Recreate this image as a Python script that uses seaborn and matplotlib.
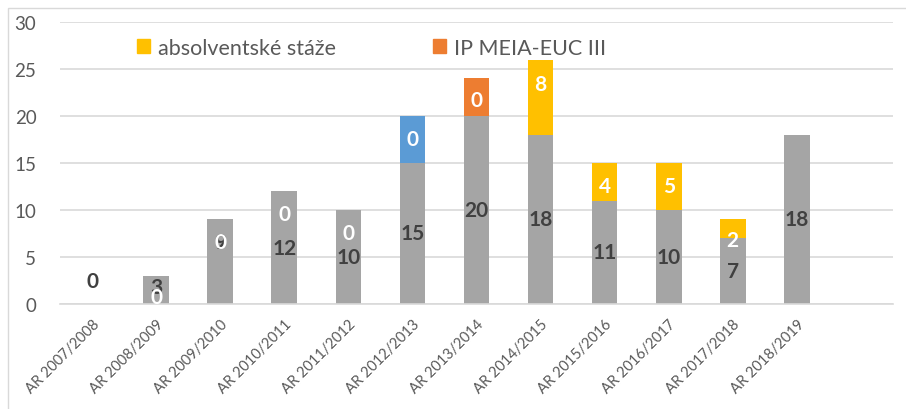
import numpy as np
import pandas as pd
import matplotlib
matplotlib.use('Agg')
import matplotlib.pyplot as plt
import seaborn as sns
from matplotlib.patches import Patch, Rectangle

sns.set_theme(style='white')
plt.rcParams['font.family'] = ['Lato', 'DejaVu Sans']

## 1. Data
roky = ['AR 2007/2008', 'AR 2008/2009', 'AR 2009/2010', 'AR 2010/2011',
        'AR 2011/2012', 'AR 2012/2013', 'AR 2013/2014', 'AR 2014/2015',
        'AR 2015/2016', 'AR 2016/2017', 'AR 2017/2018', 'AR 2018/2019']
zaklad = [0, 3, 9, 12, 10, 15, 20, 18, 11, 10, 7, 18]
modra = [0, 0, 0, 0, 0, 5, 0, 0, 0, 0, 0, 0]
ip_meia = [0, 0, 0, 0, 0, 0, 4, 0, 0, 0, 0, 0]
staze = [0, 0, 0, 0, 0, 0, 0, 8, 4, 5, 2, 0]

# labels as they are printed in the original chart
popisky_modra = {'AR 2012/2013': 0}
popisky_ip = {'AR 2013/2014': 0}
popisky_nuly = ['AR 2008/2009', 'AR 2009/2010', 'AR 2010/2011', 'AR 2011/2012']

# colours
SEDA = '#A5A5A5'
MODRA = '#5B9BD5'
ORANZOVA = '#ED7D31'
ZLUTA = '#FFC000'
TEXT = '#595959'

df = pd.DataFrame({'rok': roky, 'zaklad': zaklad, 'modra': modra,
                   'ip': ip_meia, 'staze': staze})
df['v_modra'] = df['zaklad'] + df['modra']
df['v_ip'] = df['v_modra'] + df['ip']
df['v_staze'] = df['v_ip'] + df['staze']

poradi = roky + ['']   # one empty slot on the right, like in excel

## 2. Plot
fig = plt.figure(figsize=(9.06, 4.10), dpi=100)
ax = fig.add_axes([60 / 906, 1 - 305 / 410, 833 / 906, 282 / 410])

for sloupec, barva in [('v_staze', ZLUTA), ('v_ip', ORANZOVA),
                       ('v_modra', MODRA), ('zaklad', SEDA)]:
    sns.barplot(data=df, x='rok', y=sloupec, order=poradi, color=barva,
                saturation=1, width=0.4, linewidth=0, ax=ax, zorder=2)

ax.set_ylim(0, 30)
ax.set_yticks(range(0, 31, 5))
ax.set_xlim(-0.5, len(poradi) - 0.5)
ax.set_xlabel('')
ax.set_ylabel('')
ax.yaxis.grid(True, color='#D9D9D9', lw=1.2, zorder=0)
ax.set_axisbelow(True)
for s in ['top', 'right', 'left']:
    ax.spines[s].set_visible(False)
ax.spines['bottom'].set_color('#D9D9D9')
ax.spines['bottom'].set_linewidth(1.2)

ax.tick_params(axis='y', length=0, pad=17, labelsize=13.5, labelcolor=TEXT)
ax.tick_params(axis='x', length=0, pad=9, labelsize=10.5, labelcolor=TEXT)
ax.set_xticks(range(len(poradi)))
ax.set_xticklabels(poradi, rotation=45, ha='right', rotation_mode='anchor')

## 3. Data labels
FS = 15
poz = {r: i for i, r in enumerate(roky)}
tmava_y = {'AR 2007/2008': 2.4, 'AR 2008/2009': 1.8, 'AR 2009/2010': 6.6}
for r, v in zip(roky, zaklad):
    y = tmava_y.get(r, v / 2)
    ax.text(poz[r], y, str(v), ha='center', va='center', fontsize=FS,
            fontweight='bold', color='#404040', zorder=4)

nuly_y = [0.7, 6.6, 9.6, 7.6]
for r, y in zip(popisky_nuly, nuly_y):
    ax.text(poz[r], y, '0', ha='center', va='center', fontsize=FS,
            fontweight='bold', color='white', zorder=5)

for r, v in popisky_modra.items():
    i = poz[r]
    ax.text(i, zaklad[i] + modra[i] / 2, str(v), ha='center', va='center',
            fontsize=FS, fontweight='bold', color='white', zorder=5)
for r, v in popisky_ip.items():
    i = poz[r]
    ax.text(i, zaklad[i] + ip_meia[i] / 2 - 0.3, str(v), ha='center', va='center',
            fontsize=FS, fontweight='bold', color='white', zorder=5)

# excel did not put every yellow label in the middle of its segment
staze_y = {'AR 2014/2015': 23.4, 'AR 2015/2016': 12.5, 'AR 2017/2018': 6.8}
for i, v in enumerate(staze):
    if v > 0:
        y = staze_y.get(roky[i], zaklad[i] + v / 2)
        ax.text(i, y, str(v), ha='center', va='center',
                fontsize=FS, fontweight='bold', color='white', zorder=5)

## 4. Legend
handles = [Patch(color=ZLUTA, label='absolventské stáže'),
           Patch(color=ORANZOVA, label='IP MEIA-EUC III')]
fig.legend(handles=handles, loc='upper left', bbox_to_anchor=(137 / 906, 1 - 39 / 410),
           ncol=2, frameon=False, fontsize=15.5, handlelength=0.62, handleheight=0.62,
           handletextpad=0.35, columnspacing=4.5, borderpad=0, borderaxespad=0,
           labelcolor=TEXT)

# chart border
fig.patches.append(Rectangle((8 / 906, -0.01), 1, 1 - 9 / 410 + 0.01,
                             transform=fig.transFigure, fill=False,
                             edgecolor='#D9D9D9', lw=1))

fig.savefig('out.png', dpi=100)
